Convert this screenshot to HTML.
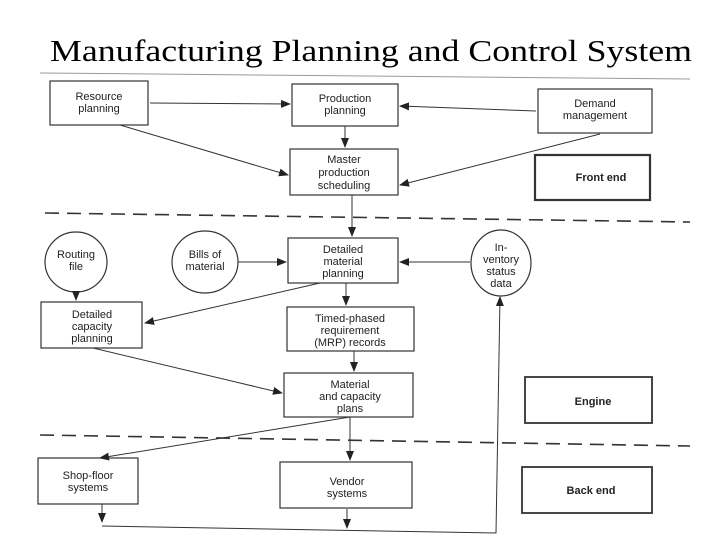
<!DOCTYPE html>
<html><head><meta charset="utf-8"><style>body{margin:0;background:#fff}svg{display:block}</style></head>
<body>
<svg width="720" height="540" viewBox="0 0 720 540" xmlns="http://www.w3.org/2000/svg">
<defs><marker id="a" markerWidth="10" markerHeight="8" refX="9" refY="4" orient="auto" markerUnits="userSpaceOnUse"><path d="M0,0 L10,4 L0,8z" fill="#222"/></marker></defs>
<text x="50" y="61" font-family="Liberation Serif, serif" font-size="31" textLength="642" lengthAdjust="spacingAndGlyphs">Manufacturing Planning and Control System</text>
<line x1="40" y1="73" x2="690" y2="79" stroke="#999" stroke-width="1"/>
<g fill="none" stroke="#333" stroke-width="1.2">
<rect x="50" y="81" width="98" height="44"/>
<rect x="292" y="84" width="106" height="42"/>
<rect x="538" y="89" width="114" height="44"/>
<rect x="290" y="149" width="108" height="46"/>
<rect x="535" y="155" width="115" height="45" stroke-width="2.2"/>
<ellipse cx="76" cy="262" rx="31" ry="30"/>
<ellipse cx="205" cy="262" rx="33" ry="31"/>
<rect x="288" y="238" width="110" height="45"/>
<ellipse cx="501" cy="263" rx="30" ry="33"/>
<rect x="41" y="302" width="101" height="46"/>
<rect x="287" y="307" width="127" height="44"/>
<rect x="284" y="373" width="129" height="44"/>
<rect x="525" y="377" width="127" height="46" stroke-width="1.8"/>
<rect x="38" y="458" width="100" height="46"/>
<rect x="280" y="462" width="132" height="46"/>
<rect x="522" y="467" width="130" height="46" stroke-width="1.8"/>
<line x1="45" y1="213" x2="690" y2="222" stroke-dasharray="14,8" stroke-width="1.6"/>
<line x1="40" y1="435" x2="690" y2="446" stroke-dasharray="14,8" stroke-width="1.6"/>
</g>
<g stroke="#333" stroke-width="1" fill="none" marker-end="url(#a)">
<line x1="150" y1="103" x2="290" y2="104"/>
<line x1="536" y1="111" x2="400" y2="106"/>
<line x1="345" y1="126" x2="345" y2="147"/>
<line x1="120" y1="125" x2="288" y2="175"/>
<line x1="600" y1="134" x2="400" y2="185"/>
<line x1="352" y1="195" x2="352" y2="236"/>
<line x1="76" y1="292" x2="76" y2="300"/>
<line x1="238" y1="262" x2="286" y2="262"/>
<line x1="470" y1="262" x2="400" y2="262"/>
<line x1="320" y1="283" x2="145" y2="323"/>
<line x1="346" y1="283" x2="346" y2="305"/>
<line x1="93" y1="348" x2="282" y2="393"/>
<line x1="354" y1="351" x2="354" y2="371"/>
<line x1="350" y1="417" x2="100" y2="458"/>
<line x1="350" y1="417" x2="350" y2="460"/>
<line x1="102" y1="504" x2="102" y2="522"/>
<line x1="347" y1="509" x2="347" y2="528"/>
<polyline points="102,526 496,533 500,297"/>
</g>
<g font-family="Liberation Sans, sans-serif" font-size="11" text-anchor="middle" fill="#222">
<text x="99" y="100">Resource</text><text x="99" y="112">planning</text>
<text x="345" y="102">Production</text><text x="345" y="114">planning</text>
<text x="595" y="107">Demand</text><text x="595" y="119">management</text>
<text x="344" y="163">Master</text><text x="344" y="176">production</text><text x="344" y="189">scheduling</text>
<text x="601" y="181" font-weight="bold">Front end</text>
<text x="76" y="258">Routing</text><text x="76" y="270">file</text>
<text x="205" y="258">Bills of</text><text x="205" y="270">material</text>
<text x="343" y="253">Detailed</text><text x="343" y="265">material</text><text x="343" y="277">planning</text>
<text x="501" y="251">In-</text><text x="501" y="263">ventory</text><text x="501" y="275">status</text><text x="501" y="287">data</text>
<text x="92" y="318">Detailed</text><text x="92" y="330">capacity</text><text x="92" y="342">planning</text>
<text x="350" y="322">Timed-phased</text><text x="350" y="334">requirement</text><text x="350" y="346">(MRP) records</text>
<text x="350" y="388">Material</text><text x="350" y="400">and capacity</text><text x="350" y="412">plans</text>
<text x="593" y="405" font-weight="bold">Engine</text>
<text x="88" y="479">Shop-floor</text><text x="88" y="491">systems</text>
<text x="347" y="485">Vendor</text><text x="347" y="497">systems</text>
<text x="591" y="494" font-weight="bold">Back end</text>
</g>
</svg>
</body></html>
